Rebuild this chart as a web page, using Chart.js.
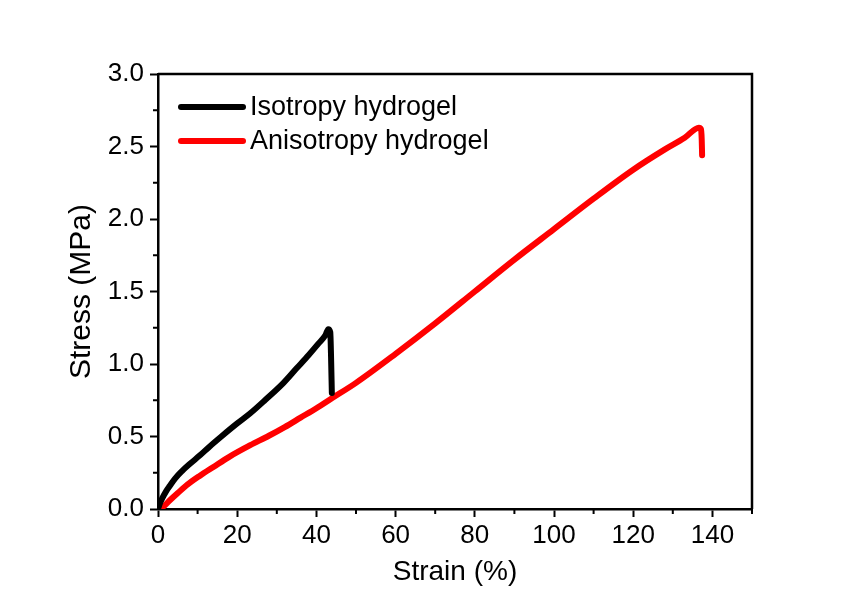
<!DOCTYPE html>
<html>
<head>
<meta charset="utf-8">
<script src="https://cdn.jsdelivr.net/npm/chart.js@4/dist/chart.umd.min.js"></script>
<style>
  html, body { margin: 0; padding: 0; background: #fff; }
  canvas { display: block; }
</style>
</head>
<body>
<canvas id="stressChart" width="856" height="603"></canvas>
<script>
// values
const isoStrain = [0, 0.5, 1, 2, 3, 4.3, 6, 8, 10.6, 13, 16, 20, 23.3, 27, 31.7, 35, 38, 40.5, 42.3, 43.0, 43.5, 43.7, 43.9];
const isoStress = [0, 0.04, 0.07, 0.12, 0.16, 0.21, 0.26, 0.31, 0.37, 0.43, 0.5, 0.59, 0.66, 0.75, 0.87, 0.97, 1.06, 1.14, 1.2, 1.24, 1.22, 1.05, 0.8];

const anisoStrain = [0, 1.5, 3, 5, 7.5, 10.6, 14, 18, 23.3, 28, 32, 36, 40, 44, 50, 60, 70, 80, 90, 100, 110, 120, 128, 133, 136.6, 137.1, 137.3, 137.4];
const anisoStress = [0, 0.02, 0.06, 0.11, 0.17, 0.23, 0.29, 0.36, 0.44, 0.505, 0.565, 0.63, 0.695, 0.765, 0.87, 1.07, 1.28, 1.5, 1.72, 1.93, 2.14, 2.34, 2.48, 2.56, 2.63, 2.62, 2.55, 2.44];

const seriesLabels = ['Isotropy hydrogel', 'Anisotropy hydrogel'];
const seriesColors = ['#000000', '#ff0000'];

const xMinorTicks = [10, 30, 50, 70, 90, 110, 130, 150];
const yMinorTicks = [0.25, 0.75, 1.25, 1.75, 2.25, 2.75];

function toPoints(xs, ys) {
    return xs.map(function(x, i) { return { x: x, y: ys[i] }; });
}

const FONT = "'Liberation Sans', Arial, sans-serif";

// frame on top/right, minor ticks and the in-plot legend
const extrasPlugin = {
    id: 'extras',
    afterDraw: function(chart) {
        const ctx = chart.ctx;
        const area = chart.chartArea;
        const xs = chart.scales.x;
        const ys = chart.scales.y;
        ctx.save();
        ctx.strokeStyle = '#000';
        ctx.lineWidth = 2.5;
        ctx.beginPath();
        ctx.moveTo(area.left, area.top);
        ctx.lineTo(area.right, area.top);
        ctx.lineTo(area.right, area.bottom);
        ctx.stroke();

        ctx.lineWidth = 2;
        ctx.beginPath();
        xMinorTicks.forEach(function(v) {
            const px = xs.getPixelForValue(v);
            ctx.moveTo(px, area.bottom);
            ctx.lineTo(px, area.bottom + 5);
        });
        yMinorTicks.forEach(function(v) {
            const py = ys.getPixelForValue(v);
            ctx.moveTo(area.left, py);
            ctx.lineTo(area.left - 5, py);
        });
        ctx.stroke();

        // legend
        ctx.font = '27px ' + FONT;
        ctx.textBaseline = 'middle';
        ctx.lineCap = 'round';
        chart.data.datasets.forEach(function(ds, i) {
            const y = 107 + i * 34;
            ctx.strokeStyle = ds.borderColor;
            ctx.lineWidth = 6;
            ctx.beginPath();
            ctx.moveTo(181, y);
            ctx.lineTo(243, y);
            ctx.stroke();
            ctx.fillStyle = '#000';
            ctx.fillText(ds.label, 250, y + 1);
        });
        ctx.restore();
    }
};

const ctx = document.getElementById('stressChart').getContext('2d');
new Chart(ctx, {
    type: 'scatter',
    data: {
        datasets: [{
            label: seriesLabels[0],
            data: toPoints(isoStrain, isoStress),
            showLine: true,
            borderColor: seriesColors[0],
            backgroundColor: seriesColors[0],
            borderWidth: 6,
            borderJoinStyle: 'round',
            borderCapStyle: 'round',
            pointRadius: 0,
            cubicInterpolationMode: 'monotone'
        }, {
            label: seriesLabels[1],
            data: toPoints(anisoStrain, anisoStress),
            showLine: true,
            borderColor: seriesColors[1],
            backgroundColor: seriesColors[1],
            borderWidth: 6,
            borderJoinStyle: 'round',
            borderCapStyle: 'round',
            pointRadius: 0,
            cubicInterpolationMode: 'monotone'
        }]
    },
    options: {
        responsive: false,
        animation: false,
        layout: { padding: { left: 0, top: 74, right: 104, bottom: 0 } },
        plugins: {
            legend: { display: false },
            tooltip: { enabled: false }
        },
        scales: {
            x: {
                type: 'linear',
                min: 0,
                max: 150,
                afterFit: function(scale) { scale.height = 94; },
                border: { display: true, color: '#000', width: 2.5 },
                grid: { drawOnChartArea: false, color: '#000', tickLength: 8, tickWidth: 2 },
                ticks: {
                    stepSize: 20,
                    includeBounds: false,
                    color: '#000',
                    padding: 3,
                    maxRotation: 0,
                    font: { family: FONT, size: 26 }
                },
                title: {
                    display: true,
                    text: 'Strain (%)',
                    color: '#000',
                    font: { family: FONT, size: 28 },
                    padding: { top: 0, bottom: 14 }
                }
            },
            y: {
                type: 'linear',
                min: 0,
                max: 3,
                afterFit: function(scale) { scale.width = 158; },
                border: { display: true, color: '#000', width: 2.5 },
                grid: { drawOnChartArea: false, color: '#000', tickLength: 8, tickWidth: 2 },
                ticks: {
                    stepSize: 0.5,
                    color: '#000',
                    padding: 6,
                    font: { family: FONT, size: 26 },
                    callback: function(v) { return v.toFixed(1); }
                },
                title: {
                    display: true,
                    text: 'Stress (MPa)',
                    color: '#000',
                    font: { family: FONT, size: 30 },
                    padding: { top: 64, bottom: 0 }
                }
            }
        }
    },
    plugins: [extrasPlugin, {
        id: 'whiteBg',
        beforeDraw: function(chart) {
            const c = chart.ctx;
            c.save();
            c.fillStyle = '#fff';
            c.fillRect(0, 0, chart.width, chart.height);
            c.restore();
        }
    }]
});
</script>
</body>
</html>
